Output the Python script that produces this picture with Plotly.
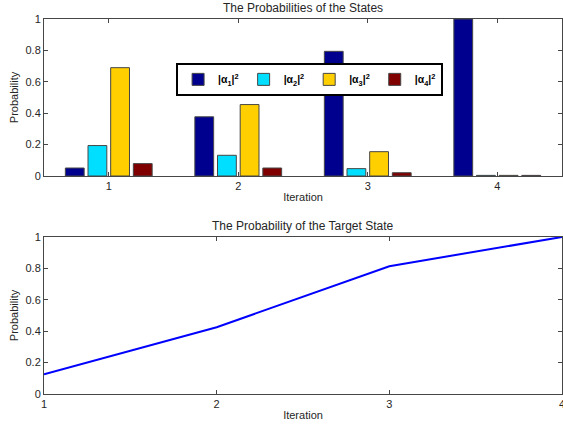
import plotly.graph_objects as go
from plotly.subplots import make_subplots

iterations = [1, 2, 3, 4]
series_names = ["|α<sub>1</sub>|<sup>2</sup>", "|α<sub>2</sub>|<sup>2</sup>",
                "|α<sub>3</sub>|<sup>2</sup>", "|α<sub>4</sub>|<sup>2</sup>"]
alpha1 = [0.051, 0.377, 0.794, 1.0]
alpha2 = [0.194, 0.132, 0.047, 0.004]
alpha3 = [0.690, 0.455, 0.155, 0.004]
alpha4 = [0.079, 0.051, 0.021, 0.004]
target_prob = [0.126, 0.425, 0.814, 1.0]
colors = ["#00008F", "#00DFFF", "#FFCF00", "#800000"]
yticks = [0, 0.2, 0.4, 0.6, 0.8, 1]

fig = make_subplots(rows=2, cols=1, vertical_spacing=0.1626)

for name, vals, c in zip(series_names, [alpha1, alpha2, alpha3, alpha4], colors):
    fig.add_trace(go.Bar(x=iterations, y=vals, name="<b>" + name + "</b>",
                         marker=dict(color=c, line=dict(color="rgb(70,70,70)", width=1))),
                  row=1, col=1)

fig.add_trace(go.Scatter(x=iterations, y=target_prob, mode="lines",
                         line=dict(color="rgb(0,0,255)", width=2), showlegend=False),
              row=2, col=1)

axcolor = "rgb(70,70,70)"
common = dict(showline=True, linecolor=axcolor, linewidth=1, mirror="ticks",
              ticks="inside", ticklen=4, tickcolor=axcolor, showgrid=False,
              zeroline=False, automargin=False, ticklabeloverflow="allow",
              tickfont=dict(size=11, color="#262626"),
              title_font=dict(size=11, color="#262626"))

fig.update_xaxes(range=[0.5, 4.5], tickvals=iterations, title_text="Iteration",
                 title_standoff=2, row=1, col=1, **common)
fig.update_xaxes(range=[1, 4], tickvals=iterations, title_text="Iteration",
                 title_standoff=2, row=2, col=1, **common)
fig.update_yaxes(range=[0, 1], tickvals=yticks, title_text="Probability",
                 title_standoff=4, row=1, col=1, **common)
fig.update_yaxes(range=[0, 1], tickvals=yticks, title_text="Probability",
                 title_standoff=4, row=2, col=1, **common)

fig.update_layout(
    width=563, height=430,
    margin=dict(l=44, r=1, t=19, b=36),
    paper_bgcolor="white", plot_bgcolor="white",
    font=dict(family="Liberation Sans, Arial, sans-serif", size=11, color="#262626"),
    barmode="group", bargap=0.3, bargroupgap=0.17,
    legend=dict(orientation="h", x=0.255, y=0.883, xanchor="left", yanchor="top",
                bordercolor="black", borderwidth=2, bgcolor="white",
                font=dict(size=10.5, color="black"), itemwidth=30,
                tracegroupgap=0),
    annotations=[
        dict(text="The Probabilities of the States", x=0.5, y=1.0, xref="paper",
             yref="paper", xanchor="center", yanchor="bottom", yshift=2,
             showarrow=False, font=dict(size=12, color="#262626")),
        dict(text="The Probability of the Target State", x=0.5, y=0.4187, xref="paper",
             yref="paper", xanchor="center", yanchor="bottom", yshift=2,
             showarrow=False, font=dict(size=12, color="#262626")),
    ],
)

fig.write_html("out.html", config={"displayModeBar": False},
               post_script="document.body.style.margin='0';document.body.style.overflow='hidden';")
